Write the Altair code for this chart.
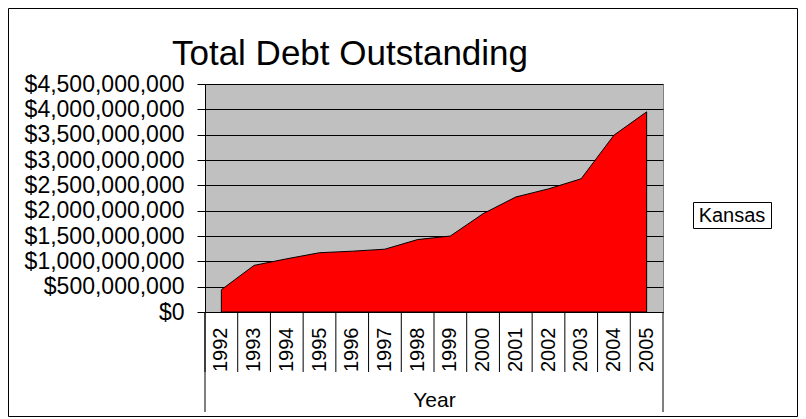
import altair as alt
import pandas as pd

years = [str(y) for y in range(1992, 2006)]
debt = [440e6, 920e6, 1050e6, 1170e6, 1200e6, 1240e6, 1430e6, 1500e6,
        1940e6, 2270e6, 2430e6, 2630e6, 3490e6, 3950e6]
series = ["Kansas"] * len(years)
y_ticks = [0, 5e8, 1e9, 1.5e9, 2e9, 2.5e9, 3e9, 3.5e9, 4e9, 4.5e9]
title_text = "Total Debt Outstanding"

df = pd.DataFrame({"Year": years, "Debt": debt, "State": series})

W, H = 458, 228
FONT = "Liberation Sans"
PAD_L, PAD_T = 197, 76
CANVAS_W, CANVAS_H = 790, 409
PAD_R = CANVAS_W - PAD_L - W
PAD_B = CANVAS_H - PAD_T - H

xscale = alt.Scale(type="band", paddingInner=0, paddingOuter=0)

base = alt.Chart(df)

area = base.mark_area(stroke="black", strokeWidth=1, opacity=1, color="#FF0000").encode(
    x=alt.X("Year:O", scale=xscale, bandPosition=0.5,
            axis=alt.Axis(title="Year", labelAngle=270, ticks=False, labelPadding=15,
                          labelFont=FONT, labelFontSize=20, labelColor="black",
                          domainColor="black", grid=False,
                          titleFont=FONT, titleFontSize=21, titleFontWeight="normal",
                          titleColor="black", titleY=94, titleBaseline="alphabetic")),
    y=alt.Y("Debt:Q", scale=alt.Scale(domain=[0, 4.5e9]),
            axis=alt.Axis(title=None, values=y_ticks, format="$,.0f", tickSize=8,
                          labelPadding=13, labelFont=FONT, labelFontSize=23,
                          labelColor="black", domainColor="black", tickColor="black",
                          gridColor="black", gridWidth=1, gridOpacity=1)),
)

dividers = base.mark_rule(color="black", strokeWidth=1).encode(
    x=alt.X("Year:O", scale=xscale, bandPosition=0),
    y=alt.value(H),
    y2=alt.value(H + 60),
)

one = pd.DataFrame({"State": [series[0]], "Title": [title_text]})

edge_l = alt.Chart(one).mark_rule(color="black", strokeWidth=1).encode(
    x=alt.value(0), y=alt.value(H), y2=alt.value(H + 100))
edge_r = alt.Chart(one).mark_rule(color="black", strokeWidth=1).encode(
    x=alt.value(W), y=alt.value(H), y2=alt.value(H + 100))

border = alt.Chart(one).mark_rect(
    fillOpacity=0, stroke="black", strokeWidth=1
).encode(
    x=alt.value(-PAD_L + 0.5), x2=alt.value(W + PAD_R - 0.5),
    y=alt.value(-PAD_T + 0.5), y2=alt.value(H + PAD_B - 0.5),
)

title = alt.Chart(one).mark_text(
    font=FONT, fontSize=35, color="black", align="center", baseline="alphabetic"
).encode(text="Title:N", x=alt.value(145), y=alt.value(-19))

legend_box = alt.Chart(one).mark_rect(fill="white", stroke="black", strokeWidth=1).encode(
    x=alt.value(488.5), x2=alt.value(566.5), y=alt.value(118.5), y2=alt.value(144.5))
legend_text = alt.Chart(one).mark_text(
    font=FONT, fontSize=20, color="black", align="center", baseline="middle"
).encode(text="State:N", x=alt.value(527), y=alt.value(132))

chart = alt.layer(border, title, area, dividers, edge_l, edge_r, legend_box, legend_text).properties(
    width=W, height=H,
    autosize=alt.AutoSizeParams(type="none"),
    padding={"left": PAD_L, "top": PAD_T, "right": PAD_R, "bottom": PAD_B},
).configure_view(fill="#C0C0C0", stroke="#808080")

chart.save("out.html", embed_options={"renderer": "svg", "actions": False})
